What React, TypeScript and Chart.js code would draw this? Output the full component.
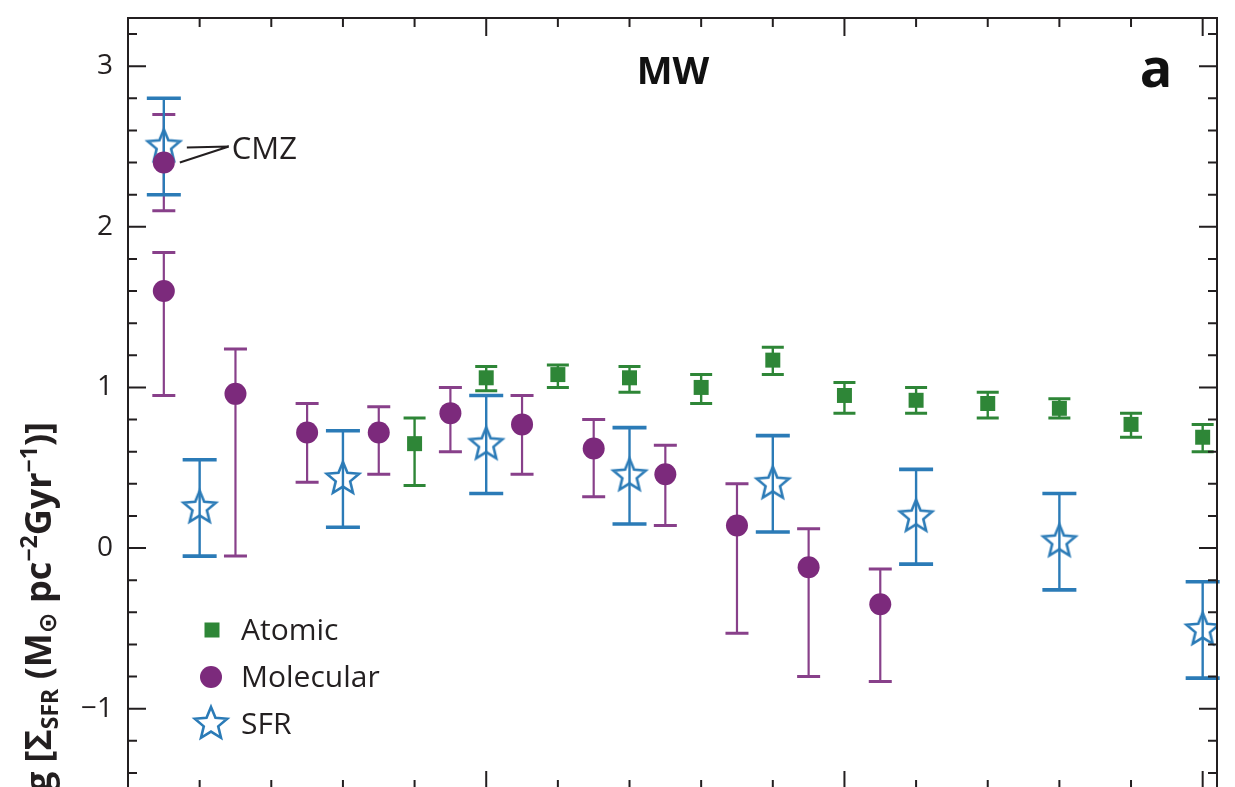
import React, { useEffect, useRef } from 'react';
import { Chart, registerables } from 'chart.js';

Chart.register(...registerables);

// ---- Data (galactocentric radius in kpc, log Sigma_SFR) ----
const atomicR = [4, 5, 6, 7, 8, 9, 10, 11, 12, 13, 14, 15];
const atomicVal = [0.65, 1.06, 1.08, 1.06, 1.0, 1.17, 0.95, 0.92, 0.9, 0.87, 0.77, 0.69];
const atomicLo = [0.39, 0.98, 1.0, 0.97, 0.9, 1.08, 0.84, 0.84, 0.81, 0.81, 0.69, 0.6];
const atomicHi = [0.81, 1.13, 1.14, 1.13, 1.08, 1.25, 1.03, 1.0, 0.97, 0.93, 0.84, 0.77];

const molecularR = [0.5, 0.5, 1.5, 2.5, 3.5, 4.5, 5.5, 6.5, 7.5, 8.5, 9.5, 10.5];
const molecularVal = [2.4, 1.6, 0.96, 0.72, 0.72, 0.84, 0.77, 0.62, 0.46, 0.14, -0.12, -0.35];
const molecularLo = [2.1, 0.95, -0.05, 0.41, 0.46, 0.6, 0.46, 0.32, 0.14, -0.53, -0.8, -0.83];
const molecularHi = [2.7, 1.84, 1.24, 0.9, 0.88, 1.0, 0.95, 0.8, 0.64, 0.4, 0.12, -0.13];

const sfrR = [0.5, 1, 3, 5, 7, 9, 11, 13, 15];
const sfrVal = [2.5, 0.25, 0.43, 0.645, 0.45, 0.4, 0.195, 0.04, -0.51];
const sfrLo = [2.2, -0.05, 0.13, 0.34, 0.15, 0.1, -0.1, -0.26, -0.81];
const sfrHi = [2.8, 0.55, 0.73, 0.95, 0.75, 0.7, 0.49, 0.34, -0.21];

const seriesLabels = ['Atomic', 'Molecular', 'SFR'];

// ---- Axis ticks ----
const xMin = 0;
const xMax = 15.2;
const yMin = -1.5;
const yMax = 3.3;
const xTickValues = [1, 2, 3, 4, 5, 6, 7, 8, 9, 10, 11, 12, 13, 14, 15];
const xMajorTicks = [5, 10, 15];
const yMajorTicks = [-1, 0, 1, 2, 3];
const yMinorTicks = [
  -1.4, -1.2, -1.0, -0.8, -0.6, -0.4, -0.2, 0, 0.2, 0.4, 0.6, 0.8, 1.0, 1.2, 1.4, 1.6, 1.8, 2.0,
  2.2, 2.4, 2.6, 2.8, 3.0, 3.2,
];
const yTickLabels = ['\u22121', '0', '1', '2', '3'];

const titleText = 'MW';
const panelText = 'a';
const annotationText = 'CMZ';

const GREEN = '#2e8637';
const PURPLE = '#7c2a7c';
const PURPLE_BAR = '#88408a';
const BLUE = '#2b7bb7';
const INK = '#231f20';
const FONT = '"Open Sans", "Noto Sans", "DejaVu Sans", sans-serif';

function makeStar(R: number, r: number, lw: number, color: string): HTMLCanvasElement {
  const size = Math.ceil(2 * R + lw * 2 + 4);
  const c = document.createElement('canvas');
  c.width = size;
  c.height = size;
  const g = c.getContext('2d')!;
  g.translate(size / 2, size / 2);
  g.beginPath();
  for (let k = 0; k < 10; k++) {
    const ang = -Math.PI / 2 + (k * Math.PI) / 5;
    const rad = k % 2 === 0 ? R : r;
    const px = rad * Math.cos(ang);
    const py = rad * Math.sin(ang);
    if (k === 0) g.moveTo(px, py);
    else g.lineTo(px, py);
  }
  g.closePath();
  g.lineWidth = lw;
  g.strokeStyle = color;
  g.lineJoin = 'miter';
  g.stroke();
  return c;
}

export default function App() {
  const canvasRef = useRef<HTMLCanvasElement | null>(null);

  useEffect(() => {
    const canvas = canvasRef.current;
    if (!canvas) return;
    const star = makeStar(17, 7.6, 2.6, BLUE);

    const errSets = [
      { r: atomicR, lo: atomicLo, hi: atomicHi, color: GREEN, cap: 11, lw: 2.4, capLw: 3 },
      { r: molecularR, lo: molecularLo, hi: molecularHi, color: PURPLE_BAR, cap: 11.5, lw: 2.2, capLw: 3 },
      { r: sfrR, lo: sfrLo, hi: sfrHi, color: BLUE, cap: 17, lw: 2.4, capLw: 3.6 },
    ];

    const decor = {
      id: 'decor',
      beforeDatasetsDraw(chart: any) {
        const ctx = chart.ctx as CanvasRenderingContext2D;
        const xs = chart.scales.x;
        const ys = chart.scales.y;
        ctx.save();
        for (const s of errSets) {
          ctx.strokeStyle = s.color;
          for (let i = 0; i < s.r.length; i++) {
            const px = xs.getPixelForValue(s.r[i]);
            const pLo = ys.getPixelForValue(s.lo[i]);
            const pHi = ys.getPixelForValue(s.hi[i]);
            ctx.lineWidth = s.lw;
            ctx.beginPath();
            ctx.moveTo(px, pLo);
            ctx.lineTo(px, pHi);
            ctx.stroke();
            ctx.lineWidth = s.capLw;
            ctx.beginPath();
            ctx.moveTo(px - s.cap, pLo);
            ctx.lineTo(px + s.cap, pLo);
            ctx.moveTo(px - s.cap, pHi);
            ctx.lineTo(px + s.cap, pHi);
            ctx.stroke();
          }
        }
        ctx.restore();
      },
      afterDatasetsDraw(chart: any) {
        const ctx = chart.ctx as CanvasRenderingContext2D;
        const a = chart.chartArea;
        const xs = chart.scales.x;
        const ys = chart.scales.y;
        ctx.save();
        // frame
        ctx.strokeStyle = INK;
        ctx.lineWidth = 2;
        ctx.strokeRect(a.left, a.top, a.right - a.left, a.bottom - a.top);
        // x ticks (top and bottom, inward)
        ctx.lineWidth = 2;
        ctx.beginPath();
        for (const v of xTickValues) {
          const px = xs.getPixelForValue(v);
          const len = xMajorTicks.includes(v) ? 18 : 9;
          ctx.moveTo(px, a.top);
          ctx.lineTo(px, a.top + len);
          ctx.moveTo(px, a.bottom);
          ctx.lineTo(px, a.bottom - len);
        }
        // y ticks (left and right, inward)
        for (const v of yMinorTicks) {
          const py = ys.getPixelForValue(v);
          const isMajor = yMajorTicks.some((m) => Math.abs(m - v) < 1e-6);
          const len = isMajor ? 18 : 9;
          ctx.moveTo(a.left, py);
          ctx.lineTo(a.left + len, py);
          ctx.moveTo(a.right, py);
          ctx.lineTo(a.right - len, py);
        }
        ctx.stroke();

        // titles
        ctx.fillStyle = '#111';
        ctx.textBaseline = 'alphabetic';
        ctx.textAlign = 'center';
        ctx.font = `bold 38px ${FONT}`;
        ctx.fillText(titleText, 673, 84);
        ctx.font = `bold 54px ${FONT}`;
        ctx.fillText(panelText, 1156, 87);

        // CMZ annotation
        const sx = xs.getPixelForValue(sfrR[0]);
        const sy = ys.getPixelForValue(sfrVal[0]);
        const cy = ys.getPixelForValue(molecularVal[0]);
        const jx = sx + 65;
        const jy = sy;
        ctx.strokeStyle = INK;
        ctx.lineWidth = 2;
        ctx.beginPath();
        ctx.moveTo(sx + 23, sy + 1);
        ctx.lineTo(jx, jy);
        ctx.moveTo(sx + 16, cy);
        ctx.lineTo(jx, jy);
        ctx.stroke();
        ctx.textAlign = 'left';
        ctx.font = `31px ${FONT}`;
        ctx.fillStyle = INK;
        ctx.fillText(annotationText, jx + 3, jy + 12);

        // legend (inside, lower left)
        const lx = 211;
        const rows = [630, 677, 724];
        ctx.fillStyle = GREEN;
        ctx.fillRect(lx + 1 - 7.5, rows[0] - 7.5, 15, 15);
        ctx.fillStyle = PURPLE;
        ctx.beginPath();
        ctx.arc(lx, rows[1], 11, 0, Math.PI * 2);
        ctx.fill();
        ctx.drawImage(star, lx - star.width / 2, rows[2] - star.height / 2);
        ctx.fillStyle = INK;
        ctx.font = `30px ${FONT}`;
        ctx.textBaseline = 'middle';
        for (let i = 0; i < 3; i++) {
          ctx.fillText(chart.data.datasets[i].label, 241, rows[i] + 1);
        }

        // y-axis title (rotated, partially off-canvas)
        const parts = [
          { t: 'log [\u03A3', size: 36, dy: 0 },
          { t: 'SFR', size: 23, dy: 7 },
          { t: ' (M', size: 36, dy: 0 },
          { t: '\u2299', size: 25, dy: 5 },
          { t: ' pc', size: 36, dy: 0 },
          { t: '\u22122', size: 23, dy: -14 },
          { t: 'Gyr', size: 36, dy: 0 },
          { t: '\u22121', size: 23, dy: -14 },
          { t: ')]', size: 36, dy: 0 },
        ];
        ctx.textBaseline = 'alphabetic';
        ctx.textAlign = 'left';
        let total = 0;
        const widths: number[] = [];
        for (const p of parts) {
          ctx.font = `bold ${p.size}px ${FONT}`;
          const w = ctx.measureText(p.t).width;
          widths.push(w);
          total += w;
        }
        const endY = 422;
        const startY = endY + total;
        ctx.translate(51, startY);
        ctx.rotate(-Math.PI / 2);
        let u = 0;
        parts.forEach((p, i) => {
          ctx.font = `bold ${p.size}px ${FONT}`;
          ctx.fillText(p.t, u, p.dy);
          u += widths[i];
        });
        ctx.restore();
      },
    };

    const chart = new Chart(canvas, {
      type: 'scatter',
      data: {
        datasets: [
          {
            label: seriesLabels[0],
            data: atomicR.map((r, i) => ({ x: r, y: atomicVal[i] })),
            pointStyle: 'rect',
            pointRadius: 10.6,
            backgroundColor: GREEN,
            borderColor: GREEN,
            borderWidth: 0,
          },
          {
            label: seriesLabels[1],
            data: molecularR.map((r, i) => ({ x: r, y: molecularVal[i] })),
            pointStyle: 'circle',
            pointRadius: 11,
            backgroundColor: PURPLE,
            borderColor: PURPLE,
            borderWidth: 0,
          },
          {
            label: seriesLabels[2],
            data: sfrR.map((r, i) => ({ x: r, y: sfrVal[i] })),
            pointStyle: star as any,
            pointRadius: 17,
            backgroundColor: 'rgba(0,0,0,0)',
            borderColor: BLUE,
          },
        ],
      },
      options: {
        responsive: false,
        animation: false,
        events: [],
        layout: { padding: { top: 15, right: 17, bottom: 12, left: 0 } },
        plugins: {
          legend: { display: false },
          tooltip: { enabled: false },
          title: { display: false },
        },
        scales: {
          x: {
            type: 'linear',
            min: xMin,
            max: xMax,
            display: false,
          },
          y: {
            type: 'linear',
            min: yMin,
            max: yMax,
            grid: { display: false, drawTicks: false },
            border: { display: false },
            afterBuildTicks: (s: any) => {
              s.ticks = yMajorTicks.map((v) => ({ value: v }));
            },
            afterFit: (s: any) => {
              s.width = 128;
              s.paddingTop = 0;
              s.paddingBottom = 0;
              s.paddingLeft = 0;
              s.paddingRight = 0;
            },
            ticks: {
              padding: 15,
              color: INK,
              font: { family: FONT, size: 28 },
              callback: (_v: any, i: number) => yTickLabels[i],
            },
          },
        },
      },
      plugins: [decor],
    });

    return () => chart.destroy();
  }, []);

  return (
    <div
      style={{
        position: 'fixed',
        left: 0,
        top: 0,
        width: 1235,
        height: 787,
        overflow: 'hidden',
        background: '#fff',
      }}
    >
      <canvas ref={canvasRef} width={1235} height={807} style={{ display: 'block' }} />
    </div>
  );
}
